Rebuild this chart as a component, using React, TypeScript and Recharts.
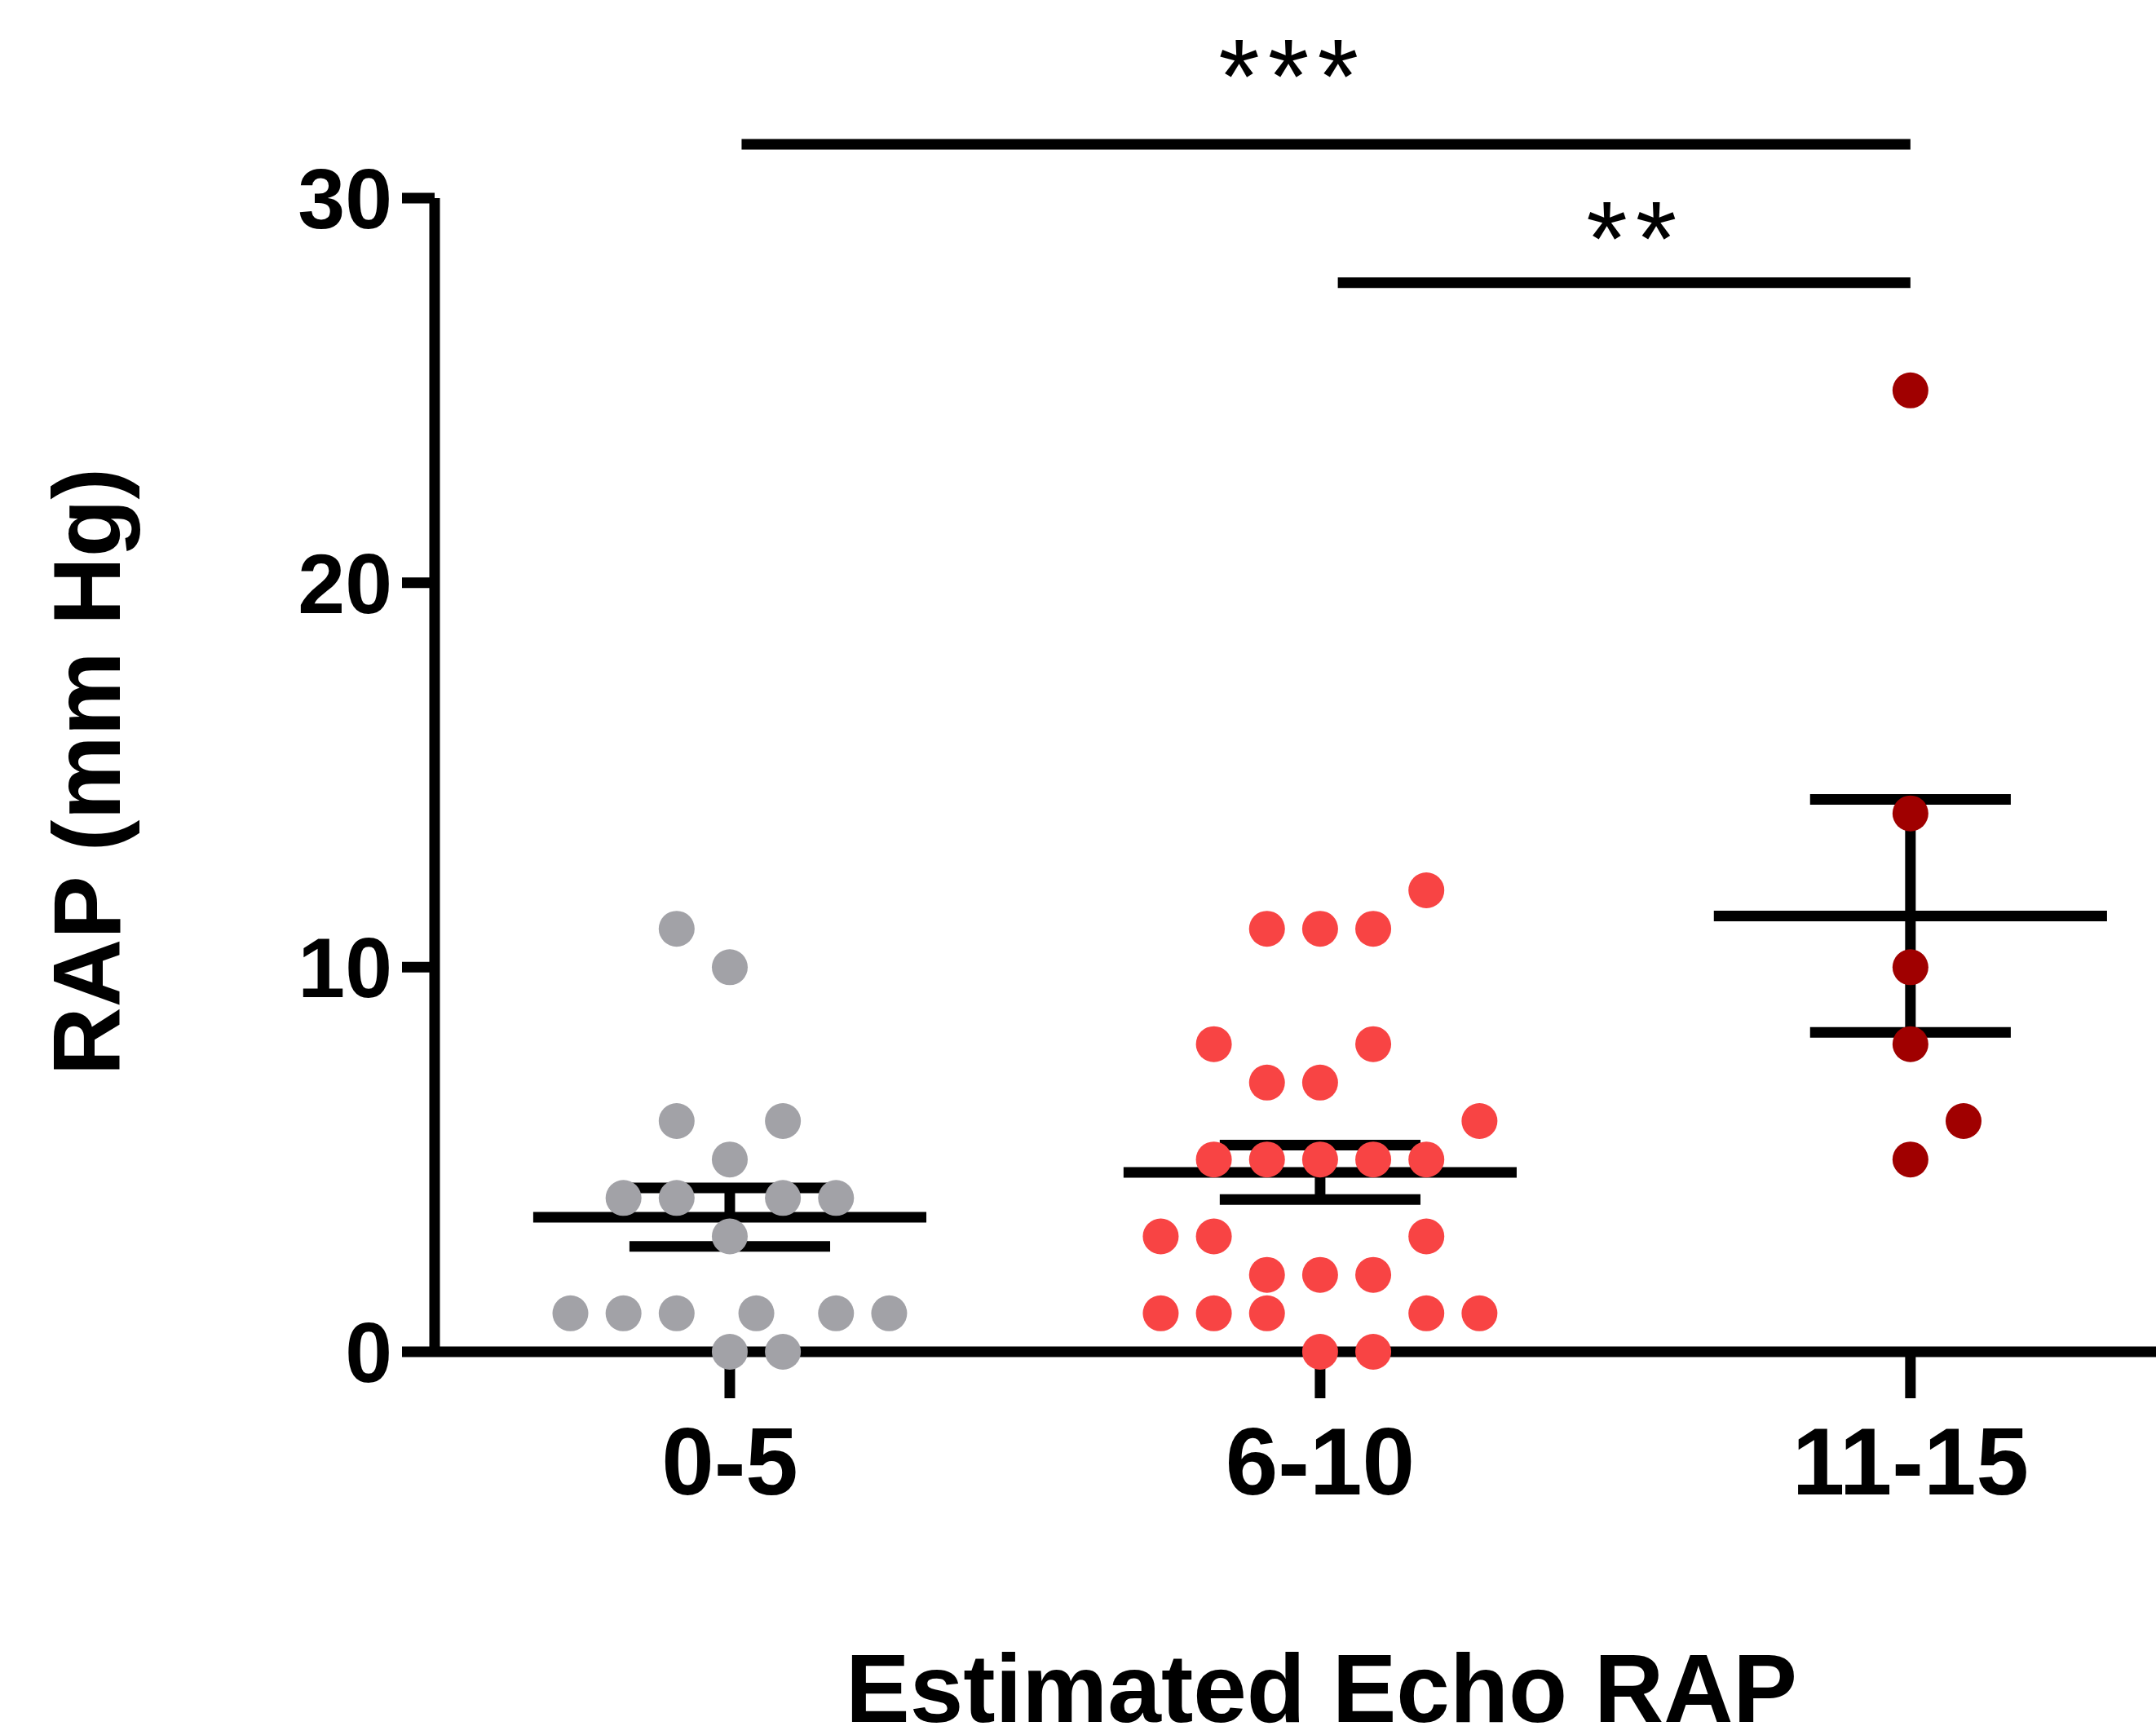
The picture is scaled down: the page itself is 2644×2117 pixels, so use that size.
import React from 'react'
import { ScatterChart, Scatter, XAxis, YAxis, ReferenceLine, Label } from 'recharts'

const categories = ['0-5', '6-10', '11-15']
const colors = ['#a2a2a7', '#f84444', '#a00000']

// measured RAP per patient, grouped by echo estimate
const rap05 = [11, 10, 6, 6, 5, 4, 4, 4, 4, 3, 1, 1, 1, 1, 1, 1, 0, 0]
const rap610 = [12, 11, 11, 11, 8, 8, 7, 7, 6, 5, 5, 5, 5, 5, 3, 3, 3, 2, 2, 2, 1, 1, 1, 1, 1, 0, 0]
const rap1115 = [25, 14, 10, 8, 6, 5]

// horizontal slot of each dot in the scatter (dot widths from group centre)
const slot05 = [-1, 0, -1, 1, 0, -2, -1, 1, 2, 0, -3, -2, -1, 0.5, 2, 3, 0, 1]
const slot610 = [2, -1, 0, 1, -2, 1, -1, 0, 3, -2, -1, 0, 1, 2, -3, -2, 2, -1, 0, 1, -3, -2, -1, 2, 3, 0, 1]
const slot1115 = [0, 0, 0, 0, 1, 0]

const yTicks = [0, 10, 20, 30]

// significance brackets
const sigText = ['***', '**']
const sigFrom = [1.02, 2.03]
const sigTo = [3.0, 3.0]
const sigLevel = [31.4, 27.8]

const groups = [rap05, rap610, rap1115]
const slots = [slot05, slot610, slot1115]

const STEP = 0.09
const FONT = '"Liberation Sans", Arial, Helvetica, sans-serif'

const points = groups.map((vals, g) =>
  vals.map((v, i) => ({ x: g + 1 + slots[g][i] * STEP, y: v }))
)

const stats = groups.map((vals) => {
  const n = vals.length
  const mean = vals.reduce((a, b) => a + b, 0) / n
  const sd = Math.sqrt(vals.reduce((a, b) => a + (b - mean) * (b - mean), 0) / (n - 1))
  return { mean, sem: sd / Math.sqrt(n) }
})

const Dot = (color: string) => (props: any) => (
  <circle cx={props.cx} cy={props.cy} r={22} fill={color} />
)

const line = { stroke: '#000', strokeWidth: 13 }

const App: React.FC = () => {
  return (
    <div style={{ position: 'absolute', left: 0, top: 0, background: '#fff' }}>
      <ScatterChart width={2644} height={2117} margin={{ top: 243, right: 0, bottom: 0, left: 0 }}>
        <XAxis
          type="number"
          dataKey="x"
          domain={[0.5, 3.416]}
          ticks={[1, 2, 3]}
          interval={0}
          allowDataOverflow
          tickFormatter={(v) => categories[v - 1]}
          height={459}
          tickSize={57}
          tickMargin={36}
          axisLine={line}
          tickLine={line}
          tick={{ fill: '#000', fontSize: 116, fontWeight: 'bold', fontFamily: FONT }}
        >
          <Label
            value="Estimated Echo RAP"
            position="insideBottom"
            offset={5}
            dx={32}
            fill="#000"
            fontSize={118}
            fontWeight="bold"
            fontFamily={FONT}
          />
        </XAxis>
        <YAxis
          type="number"
          dataKey="y"
          domain={[0, 30]}
          ticks={yTicks}
          interval={0}
          width={533}
          tickSize={40}
          tickMargin={12}
          axisLine={line}
          tickLine={line}
          tick={{ fill: '#000', fontSize: 104, fontWeight: 'bold', fontFamily: FONT }}
        >
          <Label
            value="RAP (mm Hg)"
            position="center"
            angle={-90}
            dx={-161}
            dy={-4}
            fill="#000"
            fontSize={116}
            fontWeight="bold"
            fontFamily={FONT}
          />
        </YAxis>
        {points.map((pts, g) => (
          <Scatter
            key={categories[g]}
            data={pts}
            shape={Dot(colors[g])}
            isAnimationActive={false}
          />
        ))}
        {stats.map((s, g) => (
          <React.Fragment key={'stat' + g}>
            <ReferenceLine
              segment={[{ x: g + 1 - 0.333, y: s.mean }, { x: g + 1 + 0.333, y: s.mean }]}
              {...line}
              ifOverflow="visible"
            />
            <ReferenceLine
              segment={[{ x: g + 1 - 0.17, y: s.mean + s.sem }, { x: g + 1 + 0.17, y: s.mean + s.sem }]}
              {...line}
              ifOverflow="visible"
            />
            <ReferenceLine
              segment={[{ x: g + 1 - 0.17, y: s.mean - s.sem }, { x: g + 1 + 0.17, y: s.mean - s.sem }]}
              {...line}
              ifOverflow="visible"
            />
            <ReferenceLine
              segment={[{ x: g + 1, y: s.mean - s.sem }, { x: g + 1, y: s.mean + s.sem }]}
              {...line}
              ifOverflow="visible"
            />
          </React.Fragment>
        ))}
        {sigText.map((t, i) => (
          <ReferenceLine
            key={t}
            segment={[{ x: sigFrom[i], y: sigLevel[i] }, { x: sigTo[i], y: sigLevel[i] }]}
            stroke="#000"
            strokeWidth={13}
            ifOverflow="visible"
            label={{
              value: t,
              position: 'top',
              offset: i === 0 ? 38 : 9,
              dx: i === 0 ? -41 : 14,
              fill: '#000',
              fontSize: 130,
              fontWeight: 'normal',
              letterSpacing: 10,
              fontFamily: FONT,
            }}
          />
        ))}
      </ScatterChart>
    </div>
  )
}

export default App
